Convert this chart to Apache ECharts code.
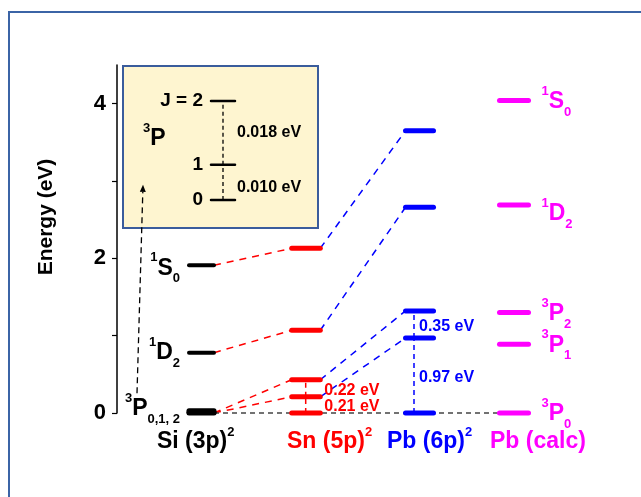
<!DOCTYPE html>
<html>
<head>
<meta charset="utf-8">
<script src="https://cdn.jsdelivr.net/npm/echarts@6/dist/echarts.min.js"></script>
<style>
  html, body { margin: 0; padding: 0; background: #ffffff; }
  #chart { width: 641px; height: 497px; }
</style>
</head>
<body>
<div id="chart"></div>
<script>
// ---- Term energies (eV) of the np^2 configurations ----
const columnNames = ['Si (3p)', 'Sn (5p)', 'Pb (6p)', 'Pb (calc)'];
const columnSup = ['2', '2', '2', ''];
const siLevels = [0, 0.78, 1.91];
const siTerms = [['3', 'P', '0,1, 2'], ['1', 'D', '2'], ['1', 'S', '0']];
const snLevels = [0, 0.21, 0.43, 1.07, 2.13];
const pbLevels = [0, 0.97, 1.32, 2.66, 3.65];
const calcLevels = [0, 0.89, 1.30, 2.69, 4.04];
const calcTerms = [['3', 'P', '0'], ['3', 'P', '1'], ['3', 'P', '2'], ['1', 'D', '2'], ['1', 'S', '0']];
// Si 3P fine structure J = 0, 1, 2 (eV)
const siFine = [0, 0.010, 0.028];
const fineJ = ['0', '1', 'J = 2'];
// correlated levels: [from column, from level index, to column, to level index]
const correlations = [
  [0, 2, 1, 4], [0, 1, 1, 3], [0, 0, 1, 2], [0, 0, 1, 1],
  [1, 4, 2, 4], [1, 3, 2, 3], [1, 2, 2, 2], [1, 1, 2, 1]
];
// splittings marked with a vertical bracket: [column, lower level idx, upper level idx]
const splittings = [[1, 0, 1], [1, 1, 2], [2, 0, 1], [2, 1, 2]];
const yTickValues = [0, 1, 2, 3, 4];
const yLabelValues = [0, 2, 4];

// ---- layout ----
const FONT = "'Liberation Sans', Arial, Helvetica, sans-serif";
const colColors = ['#000000', '#ff0000', '#0000ff', '#ff00ff'];
const colCenter = [84.5, 189, 302.5, 397];   // x-axis units (px right of the energy axis)
const colHalf = [12.5, 14.3, 14, 14.5];
const splitDx = [0, -0.3, -5.5, 0];
const gapLabelDx = [0, 20, 5, 0];
const catLabelX = [40, 170, 270, 373];
const columnLevels = [siLevels, snLevels, pbLevels, calcLevels];

const termRich = {
  sup: { fontSize: 13, lineHeight: 14, verticalAlign: 'top', fontWeight: 'bold', fontFamily: FONT },
  m: { fontSize: 23, lineHeight: 34, verticalAlign: 'middle', fontWeight: 'bold', fontFamily: FONT },
  sub: { fontSize: 13, lineHeight: 10, verticalAlign: 'bottom', fontWeight: 'bold', fontFamily: FONT }
};
function termText(t) { return '{sup|' + t[0] + '}{m|' + t[1] + '}{sub|' + t[2] + '}'; }
const siTermDy = { S: 3, D: 0, P: -4 };
const calcTermDy = { S: 1, D: 9, P: 1 };

// ---- series data ----
const levelItems = [];
columnLevels.forEach((lv, c) => lv.forEach(e => levelItems.push([c, e])));
const fineItems = siFine.map(e => [0, e]);
const connItems = correlations.map(r => [r[0], columnLevels[r[0]][r[1]], r[2], columnLevels[r[2]][r[3]]]);
connItems.push([0, siLevels[0], 3, calcLevels[0]]);
const splitItems = splittings.map(s => [s[0], columnLevels[s[0]][s[1]], columnLevels[s[0]][s[2]]]);
const siTermItems = siLevels.map((e, i) => [0, e, i]);
const calcTermItems = calcLevels.map((e, i) => [3, e, i]);
const catItems = columnNames.map((n, i) => [i, 0]);

const myChart = echarts.init(document.getElementById('chart'), null, { renderer: 'canvas' });

const option = {
  animation: false,
  backgroundColor: '#ffffff',
  grid: [
    { left: 117, top: 65, width: 520, height: 348, show: false },
    { left: 123, top: 66, width: 195, height: 162, show: true,
      backgroundColor: '#fef5d0', borderColor: '#3a5c9c', borderWidth: 2 }
  ],
  xAxis: [
    { gridIndex: 0, type: 'value', min: 0, max: 520, show: false },
    { gridIndex: 1, type: 'value', min: 0, max: 195, show: false }
  ],
  yAxis: [
    { gridIndex: 0, type: 'value', min: 0, max: 4.5,
      axisLine: { show: true, onZero: false, lineStyle: { color: '#000', width: 1.5 } },
      axisTick: { show: true, length: 5, customValues: yTickValues, lineStyle: { color: '#000', width: 1.2 } },
      axisLabel: { customValues: yLabelValues, color: '#000', fontSize: 22, fontWeight: 'bold',
        fontFamily: FONT, margin: 11 },
      splitLine: { show: false }
    },
    { gridIndex: 1, type: 'value', min: -0.0079, max: 0.0379, show: false }
  ],
  graphic: [
    { type: 'rect', shape: { x: 9, y: 12, width: 700, height: 600 },
      style: { fill: 'none', stroke: '#3b64a6', lineWidth: 2 }, z: 0, silent: true },
    { type: 'text', x: 46, y: 217, rotation: Math.PI / 2,
      style: { text: 'Energy (eV)', fill: '#000', fontSize: 21, fontWeight: 'bold', fontFamily: FONT,
        align: 'center', verticalAlign: 'middle' }, silent: true }
  ],
  series: [
    // dashed correlation lines between configurations
    { type: 'custom', xAxisIndex: 0, yAxisIndex: 0, clip: false, silent: true, z: 2,
      data: connItems,
      renderItem: function (params, api) {
        const fc = api.value(0), tc = api.value(2);
        const a = api.coord([colCenter[fc] + colHalf[fc], api.value(1)]);
        const b = api.coord([colCenter[tc] - colHalf[tc], api.value(3)]);
        const col = tc === 3 ? '#444444' : colColors[tc];
        return { type: 'line', shape: { x1: a[0], y1: a[1], x2: b[0], y2: b[1] },
          style: { stroke: col, lineWidth: 1.5, lineDash: tc === 3 ? [5, 4] : [7, 6] } };
      }
    },
    // energy levels
    { type: 'custom', xAxisIndex: 0, yAxisIndex: 0, clip: false, silent: true, z: 4,
      data: levelItems,
      renderItem: function (params, api) {
        const c = api.value(0), e = api.value(1);
        const a = api.coord([colCenter[c] - colHalf[c], e]);
        const b = api.coord([colCenter[c] + colHalf[c], e]);
        return { type: 'line', shape: { x1: a[0], y1: a[1], x2: b[0], y2: b[1] },
          style: { stroke: colColors[c], lineWidth: c === 0 ? 4 : 5, lineCap: 'round' } };
      }
    },
    // Si 3P fine-structure levels (merged into one thick bar at this scale)
    { type: 'custom', xAxisIndex: 0, yAxisIndex: 0, clip: false, silent: true, z: 4,
      data: fineItems,
      renderItem: function (params, api) {
        const c = api.value(0), e = api.value(1);
        const a = api.coord([colCenter[c] - colHalf[c], e]);
        const b = api.coord([colCenter[c] + colHalf[c], e]);
        return { type: 'line', shape: { x1: a[0], y1: a[1], x2: b[0], y2: b[1] },
          style: { stroke: '#000', lineWidth: 5, lineCap: 'round' } };
      }
    },
    // splitting brackets with their values
    { type: 'custom', xAxisIndex: 0, yAxisIndex: 0, clip: false, silent: true, z: 5,
      data: splitItems,
      renderItem: function (params, api) {
        const c = api.value(0), lo = api.value(1), hi = api.value(2);
        const x = colCenter[c] + splitDx[c];
        const a = api.coord([x, lo]);
        const b = api.coord([x, hi]);
        const labelX = c === 1 ? api.coord([colCenter[c] + colHalf[c], 0])[0] + 4 : a[0] + gapLabelDx[c];
        return { type: 'group', children: [
          { type: 'line', shape: { x1: a[0], y1: a[1], x2: b[0], y2: b[1] },
            style: { stroke: colColors[c], lineWidth: 1.5, lineDash: [5, 4] } },
          { type: 'text', x: labelX, y: (a[1] + b[1]) / 2 + 2,
            style: { text: (hi - lo).toFixed(2) + ' eV', fill: colColors[c], fontSize: 16,
              fontWeight: 'bold', fontFamily: FONT, align: 'left', verticalAlign: 'middle' } }
        ] };
      }
    },
    // Si term symbols (left of the levels)
    { type: 'custom', xAxisIndex: 0, yAxisIndex: 0, clip: false, silent: true, z: 5,
      data: siTermItems,
      renderItem: function (params, api) {
        const c = api.value(0), e = api.value(1), t = siTerms[api.value(2)];
        const p = api.coord([colCenter[c] - colHalf[c], e]);
        return { type: 'text', x: p[0] - 9, y: p[1] + siTermDy[t[1]],
          style: { text: termText(t), fill: '#000', align: 'right', verticalAlign: 'middle', rich: termRich } };
      }
    },
    // calculated Pb term symbols (right of the levels)
    { type: 'custom', xAxisIndex: 0, yAxisIndex: 0, clip: false, silent: true, z: 5,
      data: calcTermItems,
      renderItem: function (params, api) {
        const c = api.value(0), e = api.value(1), t = calcTerms[api.value(2)];
        const p = api.coord([colCenter[c] + colHalf[c], e]);
        return { type: 'text', x: p[0] + 13, y: p[1] + calcTermDy[t[1]],
          style: { text: termText(t), fill: colColors[c], align: 'left', verticalAlign: 'middle', rich: termRich } };
      }
    },
    // configuration names under each column
    { type: 'custom', xAxisIndex: 0, yAxisIndex: 0, clip: false, silent: true, z: 5,
      data: catItems,
      renderItem: function (params, api) {
        const c = api.value(0);
        const p = api.coord([catLabelX[c], api.value(1)]);
        return { type: 'text', x: p[0], y: p[1] + 29,
          style: { text: '{m|' + columnNames[c] + '}{sup|' + columnSup[c] + '}',
            fill: colColors[c], align: 'left', verticalAlign: 'middle',
            rich: {
              m: { fontSize: 23, lineHeight: 32, verticalAlign: 'middle', fontWeight: 'bold', fontFamily: FONT, fill: colColors[c] },
              sup: { fontSize: 13, lineHeight: 13, verticalAlign: 'top', fontWeight: 'bold', fontFamily: FONT, fill: colColors[c] }
            } } };
      }
    },
    // dashed arrow from the Si 3P term up to the fine-structure inset
    { type: 'custom', xAxisIndex: 0, yAxisIndex: 0, clip: false, silent: true, z: 6,
      data: [[20, 0.255, 26, 2.95]],
      renderItem: function (params, api) {
        const a = api.coord([api.value(0), api.value(1)]);
        const b = api.coord([api.value(2), api.value(3)]);
        const ang = Math.atan2(b[1] - a[1], b[0] - a[0]);
        const L = 7, W = 3;
        const bx = b[0] - L * Math.cos(ang), by = b[1] - L * Math.sin(ang);
        const nx = -Math.sin(ang) * W, ny = Math.cos(ang) * W;
        return { type: 'group', children: [
          { type: 'line', shape: { x1: a[0], y1: a[1], x2: bx, y2: by },
            style: { stroke: '#000', lineWidth: 1.3, lineDash: [6, 4] } },
          { type: 'polygon', shape: { points: [[b[0], b[1]], [bx + nx, by + ny], [bx - nx, by - ny]] },
            style: { fill: '#000' } }
        ] };
      }
    },
    // inset: Si 3P fine structure on an expanded scale
    { type: 'custom', xAxisIndex: 1, yAxisIndex: 1, clip: false, silent: true, z: 5,
      data: siFine.map((e, i) => [i, e]),
      renderItem: function (params, api) {
        const i = api.value(0), e = api.value(1);
        const a = api.coord([88, e]);
        const b = api.coord([112, e]);
        const children = [
          { type: 'line', shape: { x1: a[0], y1: a[1], x2: b[0], y2: b[1] },
            style: { stroke: '#000', lineWidth: 2.5, lineCap: 'round' } },
          { type: 'text', x: a[0] - 8, y: a[1],
            style: { text: fineJ[i], fill: '#000', fontSize: 19, fontWeight: 'bold', fontFamily: FONT,
              align: 'right', verticalAlign: 'middle' } }
        ];
        if (i > 0) {
          const lo = siFine[i - 1];
          const c0 = api.coord([100, lo]);
          const gap = e - lo;
          children.push({ type: 'line', shape: { x1: c0[0], y1: c0[1], x2: c0[0], y2: a[1] },
            style: { stroke: '#000', lineWidth: 1.3, lineDash: [4, 3] } });
          children.push({ type: 'text', x: c0[0] + 14, y: (c0[1] + a[1]) / 2 + (i === 1 ? 5 : 0),
            style: { text: gap.toFixed(3) + ' eV', fill: '#000', fontSize: 16, fontWeight: 'bold',
              fontFamily: FONT, align: 'left', verticalAlign: 'middle' } });
        }
        if (i === siFine.length - 1) {
          const p = api.coord([20, (siFine[0] + e) / 2]);
          children.push({ type: 'text', x: p[0], y: p[1] - 12,
            style: { text: '{sup|3}{m|P}{sub| }', fill: '#000', align: 'left', verticalAlign: 'middle', rich: termRich } });
        }
        return { type: 'group', children: children };
      }
    }
  ]
};

myChart.setOption(option);
</script>
</body>
</html>
